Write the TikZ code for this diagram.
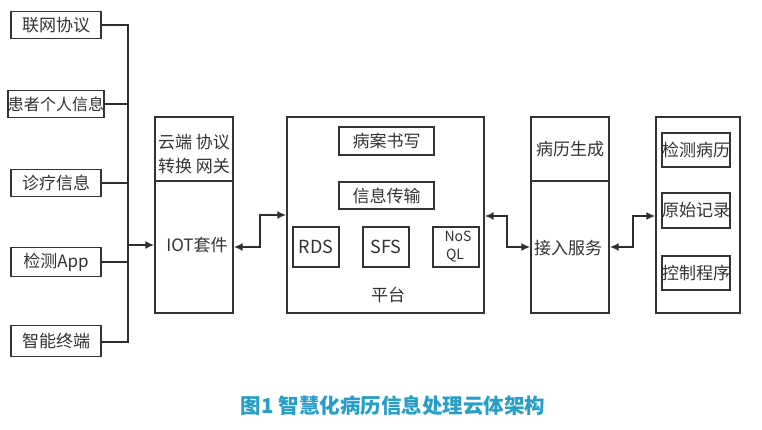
\documentclass[tikz,border=0pt]{standalone}
\usepackage{fontspec}
\setmainfont{Noto Sans CJK SC}
\usetikzlibrary{arrows.meta}
\definecolor{ink}{HTML}{333333}
\definecolor{cap}{RGB}{38,158,200}
\tikzset{
  box/.style={draw=ink, line width=1.4pt, rectangle, inner sep=0pt, text=ink},
  txt/.style={text=ink, inner sep=0pt, font=\fontsize{17}{19}\selectfont},
  conn/.style={draw=ink!90!black, line width=2pt},
  arr/.style={-{Latex[length=9pt,width=8pt]}},
  darr/.style={{Latex[length=9pt,width=8pt]}-{Latex[length=9pt,width=8pt]}},
}
\begin{document}
\begin{tikzpicture}[x=1pt,y=-1pt]
\useasboundingbox[fill=white] (0,0) rectangle (762,430);
% left column
\node[box,txt,minimum width=90pt,minimum height=27pt] (l1) at (56,25) {联网协议};
\node[box,txt,minimum width=90pt,minimum height=27pt] (l2) at (56,104) {\fontsize{16}{18}\selectfont 患者个人信息};
\node[box,txt,minimum width=90pt,minimum height=27pt] (l3) at (56,183) {诊疗信息};
\node[box,txt,minimum width=90pt,minimum height=29pt] (l4) at (56,262) {检测App};
\node[box,txt,minimum width=90pt,minimum height=31pt] (l5) at (56,341) {智能终端};
\coordinate (busT) at (128,25);
\coordinate (busB) at (128,342);
\draw[conn] (l1.east) -- (busT) -- (busB) -- (l5.east |- busB);
\draw[conn] (l2.east) -- (l2.east -| busT);
\draw[conn] (l3.east) -- (l3.east -| busT);
\draw[conn] (l4.east) -- (l4.east -| busT);
% IOT box
\node[box,minimum width=78pt,minimum height=196pt] (iot) at (194,215) {};
\draw[draw=ink,line width=1.2pt] (iot.west |- 0,181) -- (iot.east |- 0,181);
\node[txt] (iott1) at (194,142) {云端 协议};
\node[txt] (iott2) at (194,166) {转换 网关};
\node[txt] (iotl) at (197,245) {IOT套件};
\draw[conn,arr] (busT |- iotl) -- (iot.west |- iotl);
% platform
\node[box,minimum width=197pt,minimum height=196pt] (plat) at (385.5,215) {};
\node[box,txt,minimum width=95pt,minimum height=28pt] (bx) at (386.5,141) {病案书写};
\node[box,txt,minimum width=95pt,minimum height=27pt] (xx) at (386.5,195.5) {信息传输};
\node[box,txt,font=\fontsize{18}{20}\selectfont,minimum width=46pt,minimum height=40pt] (rds) at (316,247) {RDS};
\node[box,txt,font=\fontsize{18}{20}\selectfont,minimum width=46pt,minimum height=40pt] (sfs) at (386,247) {SFS};
\node[box,minimum width=46pt,minimum height=40pt] (nos) at (456,247) {};
\node[txt,font=\fontsize{14}{15}\selectfont] (nos1) at (458,236) {NoS};
\node[txt,font=\fontsize{14}{15}\selectfont] (nos2) at (455,256) {QL};
\node[txt] (pt) at (388,295) {平台};
% IOT <-> platform
\coordinate (j1) at (260,247);
\coordinate (j2) at (260,215);
\draw[conn,darr] (iot.east |- j1) -- (j1) -- (j2) -- (plat.west |- j2);
% access service
\node[box,minimum width=78pt,minimum height=196pt] (acc) at (570,215) {};
\draw[draw=ink,line width=1.2pt] (acc.west |- 0,181) -- (acc.east |- 0,181);
\node[txt] (bl) at (570,149) {病历生成};
\node[txt] (jr) at (568,248) {接入服务};
\coordinate (k1) at (507,216);
\coordinate (k2) at (507,247);
\draw[conn,darr] (plat.east |- k1) -- (k1) -- (k2) -- (acc.west |- k2);
% right box
\node[box,minimum width=84pt,minimum height=196pt] (rb) at (698,215) {};
\node[box,txt,minimum width=66pt,minimum height=34pt] (r1) at (696,150) {检测病历};
\node[box,txt,minimum width=66pt,minimum height=35pt] (r2) at (696,210.5) {原始记录};
\node[box,txt,minimum width=66pt,minimum height=34pt] (r3) at (696,273) {控制程序};
\coordinate (m1) at (633,247);
\coordinate (m2) at (633,216);
\draw[conn,darr] (acc.east |- m1) -- (m1) -- (m2) -- (rb.west |- m2);
% caption
\node[text=cap,inner sep=0pt,font=\bfseries\fontsize{20.5}{22}\selectfont] (capt) at (393,406) {图1 智慧化病历信息处理云体架构};
\end{tikzpicture}
\end{document}
